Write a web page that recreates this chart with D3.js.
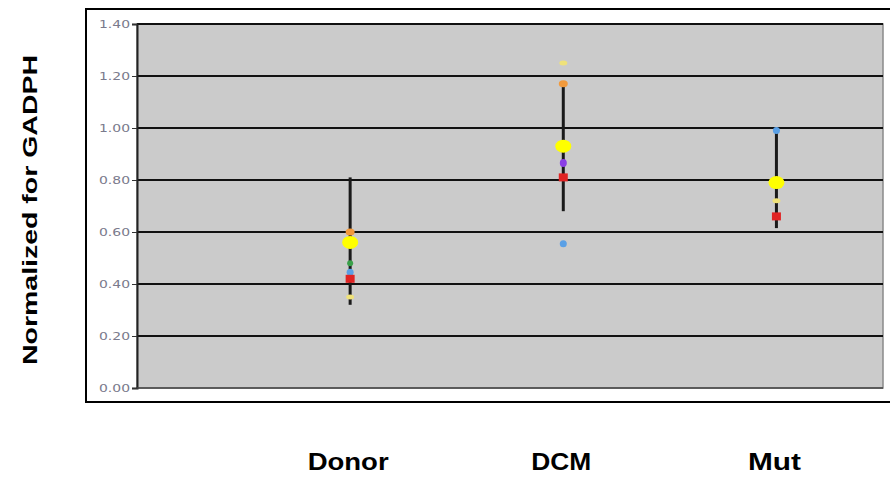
<!DOCTYPE html>
<html><head><meta charset="utf-8">
<script src="https://cdn.jsdelivr.net/npm/d3@7"></script>
<style>body{margin:0;background:#fff;}svg{display:block;}</style>
</head><body>
<svg id="c" width="890" height="481"></svg>
<script>
const categories = ["Donor", "DCM", "Mut"];
const yTicks = [0, 0.2, 0.4, 0.6, 0.8, 1.0, 1.2, 1.4];
const errLow  = [0.32, 0.68, 0.615];
const errHigh = [0.81, 1.17, 0.99];
const meanVals   = [0.56, 0.93, 0.79];
const orangeVals = [0.60, 1.17, null];
const paleVals   = [0.35, 1.25, 0.72];
const greenVals  = [0.48, null, null];
const blueVals   = [0.445, 0.555, 0.99];
const purpleVals = [null, 0.865, null];
const redVals    = [0.42, 0.81, 0.66];

(function () {
const svg = d3.select("#c");
const pL = 137, pR = 883, pT = 24, pB = 388;
const x = d3.scaleLinear().domain([0, 3.5]).range([pL, pR]);
const y = d3.scaleLinear().domain([0, 1.4]).range([pB, pT]);

// outer frame
svg.append("rect").attr("x", 86).attr("y", 9).attr("width", 820).attr("height", 393)
  .attr("fill", "#fff").attr("stroke", "#000").attr("stroke-width", 2);

// plot area
svg.append("rect").attr("x", pL).attr("y", pT).attr("width", pR - pL).attr("height", pB - pT)
  .attr("fill", "#cbcbcb").attr("stroke", "#8a8a8a").attr("stroke-width", 1.5);

// grid
svg.append("g").selectAll("line").data(yTicks.filter(d => d > 0)).join("line")
  .attr("x1", pL).attr("x2", pR).attr("y1", d => y(d)).attr("y2", d => y(d))
  .attr("stroke", "#111").attr("stroke-width", 2);

// y axis
const ya = svg.append("g").attr("transform", `translate(${pL},0)`)
  .call(d3.axisLeft(y).tickValues(yTicks).tickFormat(d3.format(".2f")).tickSize(5).tickPadding(2));
ya.select(".domain").attr("stroke", "#222").attr("stroke-width", 2);
ya.selectAll(".tick line").attr("stroke", "#333");
ya.selectAll(".tick text").attr("fill", "#7a7a8c").attr("font-family", "Verdana, DejaVu Sans, sans-serif")
  .attr("font-size", 10).attr("textLength", 31).attr("lengthAdjust", "spacingAndGlyphs");

// bottom axis line
svg.append("line").attr("x1", pL).attr("x2", pR).attr("y1", pB).attr("y2", pB)
  .attr("stroke", "#444").attr("stroke-width", 1.5);

// error bars
svg.append("g").selectAll("line").data(categories).join("line")
  .attr("x1", (d, i) => x(i + 1)).attr("x2", (d, i) => x(i + 1))
  .attr("y1", (d, i) => y(errLow[i])).attr("y2", (d, i) => y(errHigh[i]))
  .attr("stroke", "#1a1a1a").attr("stroke-width", 3);

function pts(vals, color, rx, ry, shape) {
  const data = vals.map((v, i) => ({v, i})).filter(d => d.v != null);
  const g = svg.append("g");
  if (shape === "rect") {
    g.selectAll("rect").data(data).join("rect")
      .attr("x", d => x(d.i + 1) - rx).attr("y", d => y(d.v) - ry)
      .attr("width", rx * 2).attr("height", ry * 2).attr("fill", color);
  } else {
    g.selectAll("ellipse").data(data).join("ellipse")
      .attr("cx", d => x(d.i + 1)).attr("cy", d => y(d.v))
      .attr("rx", rx).attr("ry", ry).attr("fill", color);
  }
}
pts(orangeVals, "#f29a3c", 4.5, 3.5);
pts(paleVals, "#efe27a", 4, 2.5);
pts(greenVals, "#3aa04a", 3, 3);
pts(blueVals, "#5aa0e6", 3.5, 3.5);
pts(purpleVals, "#8a3ee6", 3.5, 4);
pts(redVals, "#e02424", 4.5, 4, "rect");
pts(meanVals, "#ffff00", 8, 6.5);

// category labels
const labW = [81, 60, 53];
svg.append("g").selectAll("text").data(categories).join("text")
  .attr("x", (d, i) => x(i + 1) - 2).attr("y", 470)
  .attr("text-anchor", "middle").attr("font-family", "Liberation Sans, Arial, sans-serif")
  .attr("font-weight", "bold").attr("font-size", 24).attr("fill", "#000")
  .attr("textLength", (d, i) => labW[i]).attr("lengthAdjust", "spacingAndGlyphs")
  .text(d => d);

// y title
svg.append("text").attr("transform", "translate(37,210) rotate(-90)")
  .attr("text-anchor", "middle").attr("font-family", "Liberation Sans, Arial, sans-serif")
  .attr("font-weight", "bold").attr("font-size", 21).attr("fill", "#000")
  .attr("textLength", 310).attr("lengthAdjust", "spacingAndGlyphs")
  .text("Normalized for GADPH");
})();
</script>
</body></html>
